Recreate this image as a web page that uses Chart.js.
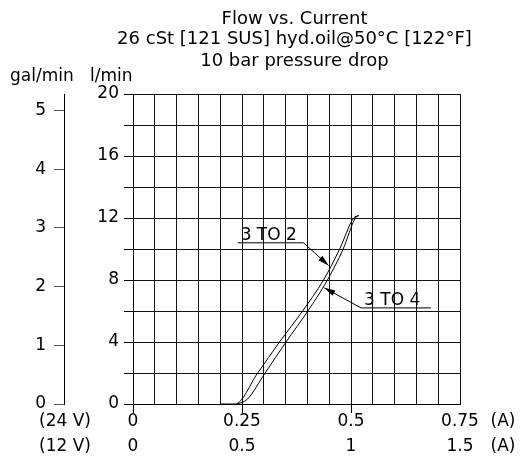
<!DOCTYPE html>
<html>
<head>
<meta charset="utf-8">
<script src="https://cdn.jsdelivr.net/npm/chart.js@4"></script>
<style>
html,body{margin:0;padding:0;background:#fff;}
canvas{display:block;}
</style>
</head>
<body>
<canvas id="c" width="520" height="459"></canvas>
<script>
// ---- data ----
const titleLines = ['Flow vs. Current', '26 cSt [121 SUS] hyd.oil@50°C [122°F]', '10 bar pressure drop'];
const seriesNames = ['3 TO 2', '3 TO 4'];
// current (A, 24 V coil) and flow (l/min)
const current32 = [0.20, 0.234, 0.286, 0.336, 0.389, 0.437, 0.474, 0.506, 0.518];
const flow32    = [0,    0,     2,     4,     6,     8,     10,    12,    12.16];
const current34 = [0.240, 0.262, 0.303, 0.351, 0.401, 0.446, 0.482, 0.510, 0.518];
const flow34    = [0,     0.3,   2,     4,     6,     8,     10,    12,    12.16];
const xTickValues = [0, 0.25, 0.5, 0.75];
const xLabels24 = ['0', '0.25', '0.5', '0.75'];
const xLabels12 = ['0', '0.5', '1', '1.5'];
const lminLabelTicks = [0, 4, 8, 12, 16, 20];
const galTicks = [0, 1, 2, 3, 4, 5];
const LITERS_PER_GAL = 3.785411784;
const FLOW_MAX = 20;
const CURRENT_MAX = 0.75;
// annotation anchors (data units)
const label32 = {text: '3 TO 2', x0: 0.240, x1: 0.391, y: 10.4, tipX: 0.4486, tipY: 8.94};
const label34 = {text: '3 TO 4', x0: 0.523, x1: 0.683, y: 6.2, tipX: 0.4387, tipY: 7.5};

const FONT = "'DejaVu Sans', sans-serif";
Chart.defaults.color = '#000';
Chart.defaults.font.family = FONT;

const toPts = (xs, ys) => xs.map((x, i) => ({x: x, y: ys[i]}));
const near = (a, b) => Math.abs(a - b) < 1e-7;

const textPlugin = {
  id: 'texts',
  afterDraw(chart) {
    const ctx = chart.ctx;
    const ca = chart.chartArea;
    const xs = chart.scales.x, ys = chart.scales.y;
    ctx.save();
    ctx.fillStyle = '#000';
    ctx.strokeStyle = '#000';
    // titles
    ctx.textAlign = 'center';
    ctx.textBaseline = 'alphabetic';
    ctx.font = '18px ' + FONT;
    const cx = (ca.left + ca.right) / 2 - 2;
    const baseY = [24, 43.5, 66];
    titleLines.forEach((t, i) => ctx.fillText(t, cx, baseY[i]));
    // axis unit labels
    ctx.font = '17px ' + FONT;
    ctx.textAlign = 'left';
    ctx.fillText('gal/min', 10, 81);
    ctx.fillText('l/min', 90, 81);
    // bottom row captions
    ctx.textBaseline = 'middle';
    ctx.textAlign = 'center';
    ctx.fillText('(24 V)', 65, 422);
    ctx.fillText('(12 V)', 65, 447);
    ctx.fillText('(A)', 503, 422);
    ctx.fillText('(A)', 503, 447);
    // annotations
    [label32, label34].forEach(a => {
      const px0 = xs.getPixelForValue(a.x0), px1 = xs.getPixelForValue(a.x1);
      const py = ys.getPixelForValue(a.y);
      const tx = xs.getPixelForValue(a.tipX), ty = ys.getPixelForValue(a.tipY);
      ctx.lineWidth = 1;
      ctx.beginPath();
      ctx.moveTo(px0, py); ctx.lineTo(px1, py);
      const fromX = (a === label32) ? px1 : px0;
      ctx.moveTo(fromX, py); ctx.lineTo(tx, ty);
      ctx.stroke();
      // arrow head
      const ang = Math.atan2(ty - py, tx - fromX);
      const L = 11, W = 3;
      ctx.beginPath();
      ctx.moveTo(tx, ty);
      ctx.lineTo(tx - L * Math.cos(ang) + W * Math.sin(ang), ty - L * Math.sin(ang) - W * Math.cos(ang));
      ctx.lineTo(tx - L * Math.cos(ang) - W * Math.sin(ang), ty - L * Math.sin(ang) + W * Math.cos(ang));
      ctx.closePath();
      ctx.fill();
      ctx.textAlign = 'left';
      ctx.textBaseline = 'alphabetic';
      ctx.font = '17px ' + FONT;
      ctx.fillText(a.text, px0 + 3, py - 3);
    });
    ctx.restore();
  }
};

new Chart(document.getElementById('c'), {
  type: 'line',
  data: {
    datasets: [
      {label: seriesNames[0], data: toPts(current32, flow32), borderColor: '#000', borderWidth: 1,
       pointRadius: 0, cubicInterpolationMode: 'monotone', fill: false, yAxisID: 'y'},
      {label: seriesNames[1], data: toPts(current34, flow34), borderColor: '#000', borderWidth: 1,
       pointRadius: 0, cubicInterpolationMode: 'monotone', fill: false, yAxisID: 'y'}
    ]
  },
  options: {
    responsive: false,
    animation: false,
    events: [],
    layout: {padding: {top: 94, right: 60, bottom: 0, left: 0}},
    plugins: {legend: {display: false}, tooltip: {enabled: false}, title: {display: false}},
    scales: {
      x: {
        type: 'linear', min: 0, max: CURRENT_MAX,
        ticks: {
          stepSize: 0.05, autoSkip: false, maxRotation: 0, padding: -4,
          font: {size: 17, lineHeight: 25 / 17},
          callback: (v) => {
            const i = xTickValues.findIndex(t => near(t, v));
            return i >= 0 ? [xLabels24[i], xLabels12[i]] : '';
          }
        },
        grid: {
          color: '#111', lineWidth: 1, tickLength: 9,
          tickColor: (c) => (c.tick && xTickValues.slice(0, 3).some(t => near(t, c.tick.value))) ? '#000' : 'rgba(0,0,0,0)'
        },
        border: {display: true, color: '#000'},
        afterFit: (s) => { s.height = 55; }
      },
      y: {
        type: 'linear', position: 'left', min: 0, max: FLOW_MAX, weight: 0,
        ticks: {
          stepSize: 2, padding: 5, font: {size: 17},
          callback: (v) => lminLabelTicks.includes(v) ? String(v) : ''
        },
        grid: {color: '#111', lineWidth: 1, tickLength: 9, tickColor: '#000'},
        border: {display: true, color: '#000'},
        afterFit: (s) => { s.width = 69; }
      },
      yg: {
        type: 'linear', position: 'left', min: 0, max: FLOW_MAX / LITERS_PER_GAL, weight: 1,
        afterBuildTicks: (s) => { s.ticks = galTicks.map(v => ({value: v})); },
        ticks: {padding: 8, font: {size: 17}, callback: (v) => String(v)},
        grid: {drawOnChartArea: false, tickLength: 10, tickColor: '#555'},
        border: {display: true, color: '#000'},
        afterFit: (s) => { s.width = 64; }
      }
    }
  },
  plugins: [textPlugin]
});
</script>
</body>
</html>
